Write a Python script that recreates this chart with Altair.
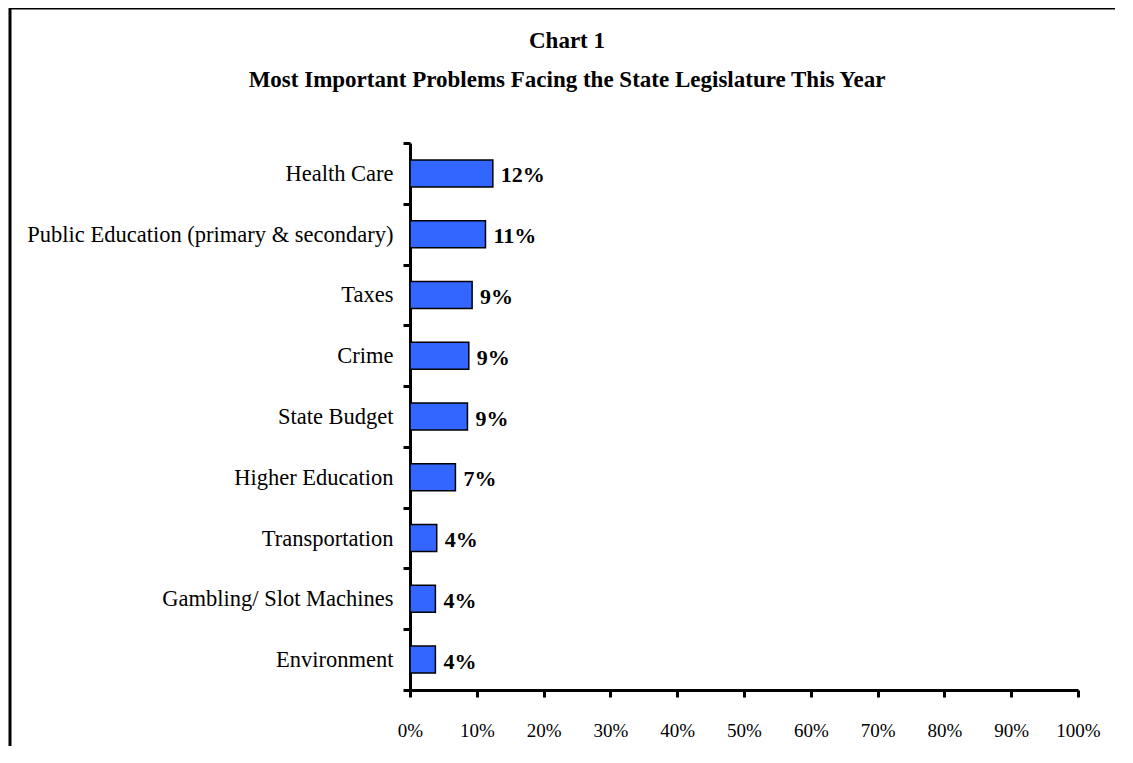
import altair as alt
import pandas as pd

categories = [
    "Health Care",
    "Public Education (primary & secondary)",
    "Taxes",
    "Crime",
    "State Budget",
    "Higher Education",
    "Transportation",
    "Gambling/ Slot Machines",
    "Environment",
]
values = [0.124, 0.113, 0.093, 0.088, 0.086, 0.068, 0.040, 0.038, 0.038]
labels = ["12%", "11%", "9%", "9%", "9%", "7%", "4%", "4%", "4%"]
x_ticks = [0, 0.1, 0.2, 0.3, 0.4, 0.5, 0.6, 0.7, 0.8, 0.9, 1.0]
title_lines = ["Chart 1", "Most Important Problems Facing the State Legislature This Year"]

df = pd.DataFrame({"problem": categories, "share": values, "label": labels})

FONT = "Liberation Serif"
W, H = 668, 547
PAD_R = 37

y_enc = alt.Y(
    "problem:N",
    sort=categories,
    scale=alt.Scale(paddingInner=0, paddingOuter=0),
    axis=alt.Axis(
        title=None, tickBand="extent", labelFontSize=22.5, labelFont=FONT,
        labelColor="black", labelLimit=500, labelPadding=10, tickSize=7,
        tickWidth=3, tickColor="black", domainColor="black", domainWidth=3,
        grid=False,
    ),
)
x_enc = alt.X(
    "share:Q",
    scale=alt.Scale(domain=[0, 1], nice=False),
    axis=alt.Axis(
        title=None, values=x_ticks, format=".0%", labelFontSize=19,
        labelFont=FONT, labelColor="black", labelPadding=24, tickSize=7,
        tickWidth=3, tickColor="black", domainColor="black", domainWidth=3,
        grid=False, labelFlush=False, labelOverlap=False,
    ),
)

base = alt.Chart(df).encode(x=x_enc, y=y_enc)
bars = base.mark_bar(color="#3366FF", stroke="black", strokeWidth=1.5, size=27)
text = base.mark_text(
    align="left", baseline="middle", dx=8, dy=2, font=FONT, fontSize=22,
    fontWeight="bold", color="black",
).encode(text="label:N")

one = pd.DataFrame({"k": [0]})
left_rule = alt.Chart(one).mark_rule(color="black", strokeWidth=3).encode(
    x=alt.value(-400), y=alt.value(-135), y2=alt.value(H + 56)
)
top_rule = alt.Chart(one).mark_rule(color="black", strokeWidth=3).encode(
    x=alt.value(-401), x2=alt.value(W + PAD_R), y=alt.value(-135)
)

t1 = alt.Chart(pd.DataFrame({"t": [title_lines[0]]})).mark_text(
    font=FONT, fontSize=23, fontWeight="bold", color="black", align="center",
    baseline="alphabetic",
).encode(x=alt.value(157), y=alt.value(-95), text="t:N")
t2 = alt.Chart(pd.DataFrame({"t": [title_lines[1]]})).mark_text(
    font=FONT, fontSize=23, fontWeight="bold", color="black", align="center",
    baseline="alphabetic",
).encode(x=alt.value(157), y=alt.value(-56), text="t:N")

chart = alt.layer(bars, text, left_rule, top_rule, t1, t2).properties(
    width=W,
    height=H,
    padding={"left": 402, "top": 135, "right": PAD_R, "bottom": 56},
    autosize=alt.AutoSizeParams(type="none"),
    background="white",
).configure_view(stroke=None)

chart.save("out.html", embed_options={"renderer": "svg", "actions": False})
